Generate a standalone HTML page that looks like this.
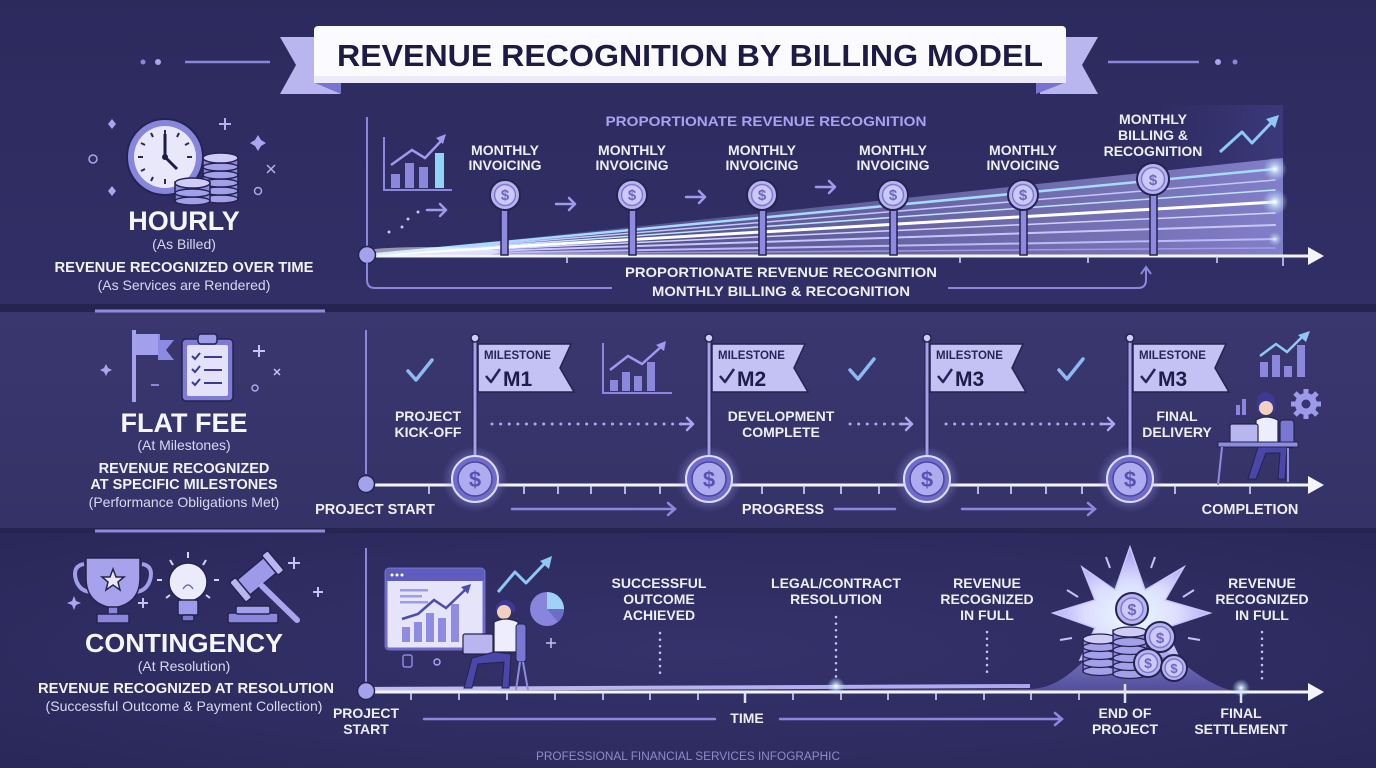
<!DOCTYPE html>
<html><head><meta charset="utf-8"><style>
html,body{margin:0;padding:0;background:#2b2a5c;}
svg{display:block;}
text{font-family:"Liberation Sans",sans-serif;}
.b{font-weight:bold;}
.lbl{font-weight:bold;font-size:14px;fill:#eeedfa;text-anchor:middle;}
.sub{font-size:14px;fill:#d9d8f2;text-anchor:middle;}
</style></head><body>
<svg width="1376" height="768" viewBox="0 0 1376 768" xmlns="http://www.w3.org/2000/svg">
<defs>
<linearGradient id="r1" x1="0" y1="0" x2="0" y2="1"><stop offset="0" stop-color="#2c2a5d"/><stop offset="1" stop-color="#312f66"/></linearGradient>
<linearGradient id="r2" x1="0" y1="0" x2="0" y2="1"><stop offset="0" stop-color="#39376e"/><stop offset="1" stop-color="#343267"/></linearGradient>
<radialGradient id="r3" cx="0.5" cy="0.5" r="0.7"><stop offset="0" stop-color="#34326a"/><stop offset="1" stop-color="#2a285a"/></radialGradient>
<linearGradient id="fan" x1="367" y1="0" x2="1283" y2="0" gradientUnits="userSpaceOnUse"><stop offset="0" stop-color="#ffffff" stop-opacity="0.6"/><stop offset="0.15" stop-color="#b8b5ff" stop-opacity="0.2"/><stop offset="1" stop-color="#a8a4f4" stop-opacity="0.65"/></linearGradient>
<linearGradient id="panel" x1="0" y1="0" x2="1" y2="0"><stop offset="0" stop-color="#4a47a0" stop-opacity="0"/><stop offset="1" stop-color="#5a57b5" stop-opacity="0.3"/></linearGradient>
<radialGradient id="glow"><stop offset="0" stop-color="#c8c6ff" stop-opacity="0.9"/><stop offset="0.6" stop-color="#9d9af0" stop-opacity="0.45"/><stop offset="1" stop-color="#8c89e8" stop-opacity="0"/></radialGradient>
<radialGradient id="wglow"><stop offset="0" stop-color="#ffffff" stop-opacity="1"/><stop offset="0.4" stop-color="#cfe9ff" stop-opacity="0.6"/><stop offset="1" stop-color="#a8d8ff" stop-opacity="0"/></radialGradient>
<radialGradient id="star" cx="0.5" cy="0.6" r="0.6"><stop offset="0" stop-color="#ffffff"/><stop offset="0.5" stop-color="#dcdcff"/><stop offset="1" stop-color="#9f9cf0"/></radialGradient>
<linearGradient id="bump" x1="0" y1="0" x2="0" y2="1"><stop offset="0" stop-color="#b3b0f5" stop-opacity="0.9"/><stop offset="1" stop-color="#6f6bd0" stop-opacity="0.6"/></linearGradient>
<linearGradient id="tl" x1="0" y1="0" x2="1" y2="0"><stop offset="0" stop-color="#d0ceff" stop-opacity="0.9"/><stop offset="1" stop-color="#b8b5ff" stop-opacity="0.9"/></linearGradient>
</defs>

<rect x="0" y="0" width="1376" height="768" fill="#2b2a5c"/>
<rect x="0" y="0" width="1376" height="304" fill="url(#r1)"/>
<rect x="0" y="304" width="1376" height="8" fill="#252350"/>
<rect x="0" y="312" width="1376" height="216" fill="url(#r2)"/>
<rect x="0" y="528" width="1376" height="5" fill="#262451"/>
<rect x="0" y="533" width="1376" height="235" fill="url(#r3)"/>
<line x1="95" y1="311" x2="325" y2="311" stroke="#8e8bdc" stroke-width="3"/>
<line x1="95" y1="531" x2="325" y2="531" stroke="#8e8bdc" stroke-width="3"/>

<circle cx="143" cy="62" r="2.5" fill="#8a87d6"/><circle cx="158" cy="62" r="3" fill="#a9a6ee"/>
<line x1="185" y1="62" x2="270" y2="62" stroke="#8a87d6" stroke-width="2.5"/>
<line x1="1108" y1="62" x2="1199" y2="62" stroke="#8a87d6" stroke-width="2.5"/>
<circle cx="1218" cy="62" r="3" fill="#a9a6ee"/><circle cx="1235" cy="62" r="2.5" fill="#8a87d6"/>
<polygon points="340,37 280,37 296,65 280,94 340,94" fill="#b9b6ef"/>
<polygon points="315,83 341,83 341,94" fill="#7773cf"/>
<polygon points="1040,37 1098,37 1082,65 1098,94 1040,94" fill="#b9b6ef"/>
<polygon points="1036,83 1064,83 1036,94" fill="#7773cf"/>
<rect x="314" y="26" width="752" height="57" rx="4" fill="#fbfbff"/>
<rect x="314" y="76" width="752" height="7" fill="#eceaf8"/>
<text x="690" y="66" class="b" font-size="31" fill="#1d1a45" text-anchor="middle" textLength="706" lengthAdjust="spacingAndGlyphs">REVENUE RECOGNITION BY BILLING MODEL</text>

<g>
<circle cx="165" cy="157" r="38" fill="#8885dc" stroke="#25234f" stroke-width="2"/>
<circle cx="165" cy="157" r="31" fill="#e9e8fb"/>
<g stroke="#2a2858" stroke-width="2">
<line x1="165" y1="130" x2="165" y2="135"/><line x1="165" y1="179" x2="165" y2="184"/>
<line x1="138" y1="157" x2="143" y2="157"/><line x1="187" y1="157" x2="192" y2="157"/>
<line x1="151" y1="133" x2="153" y2="137"/><line x1="179" y1="133" x2="177" y2="137"/>
<line x1="141" y1="143" x2="145" y2="145"/><line x1="189" y1="143" x2="185" y2="145"/>
<line x1="141" y1="171" x2="145" y2="169"/><line x1="151" y1="181" x2="153" y2="177"/>
</g>
<line x1="165" y1="157" x2="165" y2="134" stroke="#1f1c48" stroke-width="3"/>
<line x1="165" y1="157" x2="177" y2="169" stroke="#1f1c48" stroke-width="3"/>
<circle cx="165" cy="157" r="3" fill="#1f1c48"/>
<g stroke="#25234f" stroke-width="1.5" fill="#a3a0ea">
<rect x="203" y="158" width="35" height="42" fill="#8a87dc"/>
<ellipse cx="220.5" cy="199" rx="17.5" ry="4"/>
<ellipse cx="220.5" cy="191" rx="17.5" ry="4"/>
<ellipse cx="220.5" cy="183" rx="17.5" ry="4"/>
<ellipse cx="220.5" cy="175" rx="17.5" ry="4"/>
<ellipse cx="220.5" cy="167" rx="17.5" ry="4"/>
<ellipse cx="220.5" cy="158" rx="17.5" ry="5" fill="#cfcdf6"/>
</g>
<g stroke="#25234f" stroke-width="1.5" fill="#a3a0ea">
<rect x="175" y="182" width="35" height="20" fill="#8a87dc"/>
<ellipse cx="192.5" cy="201" rx="17.5" ry="4"/>
<ellipse cx="192.5" cy="193" rx="17.5" ry="4"/>
<ellipse cx="192.5" cy="183" rx="17.5" ry="5" fill="#cfcdf6"/>
</g>
<g fill="#b4b1ee" stroke="#b4b1ee" stroke-width="2">
<line x1="225" y1="118" x2="225" y2="130"/><line x1="219" y1="124" x2="231" y2="124"/>
<line x1="267" y1="165" x2="275" y2="173" stroke-width="1.5"/><line x1="275" y1="165" x2="267" y2="173" stroke-width="1.5"/>
</g>
<polygon points="112,119 116,124 112,129 108,124" fill="#a9a6ee"/>
<polygon points="112,186 116,191 112,196 108,191" fill="#a9a6ee"/>
<polygon points="258,135 261,140 266,143 261,146 258,151 255,146 250,143 255,140" fill="#a9a6ee"/>
<circle cx="93" cy="159" r="4" fill="none" stroke="#a9a6ee" stroke-width="1.5"/>
<circle cx="258" cy="191" r="3.5" fill="none" stroke="#a9a6ee" stroke-width="1.5"/>
</g>
<text x="184" y="230" class="b" font-size="27" fill="#f5f5fc" text-anchor="middle">HOURLY</text>
<text x="184" y="249" class="sub" font-size="15">(As Billed)</text>
<text x="184" y="272" class="b" font-size="14.5" fill="#f2f2fb" text-anchor="middle" textLength="259" lengthAdjust="spacingAndGlyphs">REVENUE RECOGNIZED OVER TIME</text>
<text x="184" y="290" class="sub" font-size="13.5">(As Services are Rendered)</text>

<rect x="1150" y="105" width="133" height="151" fill="url(#panel)"/>
<line x1="367" y1="117" x2="367" y2="255" stroke="#8a87dc" stroke-width="2"/>
<polygon points="367,255 1283,158 1283,255" fill="url(#fan)"/>
<g fill="none" stroke-linecap="round">
<line x1="367" y1="255" x2="1275" y2="248" stroke="#a9a6ee" stroke-width="1.5" opacity="0.8"/>
<line x1="367" y1="255" x2="1275" y2="239" stroke="#bdbaf7" stroke-width="2"/>
<line x1="367" y1="255" x2="1275" y2="225" stroke="#c8c5ff" stroke-width="2"/>
<line x1="367" y1="255" x2="1275" y2="213" stroke="#d4d2ff" stroke-width="1.5"/>
<line x1="367" y1="255" x2="1275" y2="202" stroke="#ffffff" stroke-width="3"/>
<line x1="367" y1="255" x2="1275" y2="190" stroke="#bfe4ff" stroke-width="1.5"/>
<line x1="367" y1="255" x2="1275" y2="180" stroke="#c9c6ff" stroke-width="1.5"/>
<line x1="367" y1="255" x2="1275" y2="169" stroke="#a6dbff" stroke-width="2.5"/>
</g>
<circle cx="1275" cy="169" r="12" fill="url(#wglow)"/>
<circle cx="1275" cy="202" r="13" fill="url(#wglow)"/>
<circle cx="1275" cy="239" r="7" fill="url(#wglow)" opacity="0.8"/>
<ellipse cx="430" cy="252" rx="70" ry="5" fill="#ffffff" opacity="0.5"/>
<line x1="367" y1="256" x2="1312" y2="256" stroke="#f4f4ff" stroke-width="3"/>
<polygon points="1308,247 1324,256 1308,265" fill="#f4f4ff"/>
<g stroke="#d8d6ff" stroke-width="1.5">
<line x1="567" y1="256" x2="567" y2="263"/><line x1="960" y1="256" x2="960" y2="263"/>
<line x1="1088" y1="256" x2="1088" y2="263"/><line x1="1217" y1="256" x2="1217" y2="263"/><line x1="1283" y1="256" x2="1283" y2="266"/>
</g>
<circle cx="367" cy="255" r="8.5" fill="#a5a2ec" stroke="#25234f" stroke-width="1.5"/>
<polyline points="384,137 384,190 452,190" fill="none" stroke="#8a87dc" stroke-width="2"/>
<rect x="391" y="174" width="9" height="14" fill="#8a87dc"/>
<rect x="405" y="163" width="9" height="25" fill="#8a87dc"/>
<rect x="419" y="167" width="9" height="21" fill="#8a87dc"/>
<rect x="435" y="153" width="9" height="35" fill="#8fd3f5"/>
<polyline points="391,165 412,150 425,158 442,140" fill="none" stroke="#9d9af0" stroke-width="2.5"/>
<polygon points="436,138 446,134 443,144" fill="#9d9af0"/>
<g fill="#c5c3f5"><circle cx="389" cy="232" r="1.5"/><circle cx="402" cy="227" r="1.5"/><circle cx="408" cy="219" r="1.5"/><circle cx="418" cy="212" r="1.5"/></g>
<g stroke="#9e9bec" stroke-width="2.5" fill="none" stroke-linecap="round" stroke-linejoin="round">
<path d="M427,210 H446 M440,204 L446,210 L440,216"/>
<path d="M556,204 H575 M569,198 L575,204 L569,210"/>
<path d="M686,197 H705 M699,191 L705,197 L699,203"/>
<path d="M816,187 H835 M829,181 L835,187 L829,193"/>
</g>
<text x="766" y="126" class="b" font-size="14" fill="#a6a3f2" text-anchor="middle" textLength="321" lengthAdjust="spacingAndGlyphs">PROPORTIONATE REVENUE RECOGNITION</text>
<g>
<text x="505" y="155" class="lbl">MONTHLY</text><text x="505" y="170" class="lbl">INVOICING</text>
<text x="632" y="155" class="lbl">MONTHLY</text><text x="632" y="170" class="lbl">INVOICING</text>
<text x="762" y="155" class="lbl">MONTHLY</text><text x="762" y="170" class="lbl">INVOICING</text>
<text x="893" y="155" class="lbl">MONTHLY</text><text x="893" y="170" class="lbl">INVOICING</text>
<text x="1023" y="155" class="lbl">MONTHLY</text><text x="1023" y="170" class="lbl">INVOICING</text>
<text x="1153" y="124" class="lbl">MONTHLY</text><text x="1153" y="140" class="lbl">BILLING &amp;</text><text x="1153" y="156" class="lbl">RECOGNITION</text>
</g>
<g stroke="#25234f" stroke-width="1.5" fill="#8e8ae0">
<rect x="501" y="209" width="7" height="46"/>
<rect x="629" y="209" width="7" height="46"/>
<rect x="759" y="209" width="7" height="46"/>
<rect x="890" y="209" width="7" height="46"/>
<rect x="1020" y="209" width="7" height="46"/>
<rect x="1150" y="193" width="7" height="62"/>
</g>
<g stroke="#25234f" stroke-width="2" fill="#b7b4ef">
<circle cx="505" cy="195" r="15"/><circle cx="632" cy="195" r="15"/><circle cx="762" cy="195" r="15"/>
<circle cx="893" cy="195" r="15"/><circle cx="1023" cy="195" r="15"/><circle cx="1153" cy="179" r="16"/>
</g>
<g stroke="#7d79d3" stroke-width="1.5" fill="#cbc9f7">
<circle cx="505" cy="195" r="10.5"/><circle cx="632" cy="195" r="10.5"/><circle cx="762" cy="195" r="10.5"/>
<circle cx="893" cy="195" r="10.5"/><circle cx="1023" cy="195" r="10.5"/><circle cx="1153" cy="179" r="11.5"/>
</g>
<g class="b" font-size="15" fill="#6b67c6" text-anchor="middle">
<text x="505" y="200">$</text><text x="632" y="200">$</text><text x="762" y="200">$</text>
<text x="893" y="200">$</text><text x="1023" y="200">$</text><text x="1153" y="185">$</text>
</g>
<polyline points="1220,152 1242,132 1252,143 1272,122" fill="none" stroke="#8fc7f5" stroke-width="3" stroke-linejoin="round"/>
<polygon points="1266,119 1279,115 1275,128" fill="#8fc7f5"/>
<path d="M367,262 V280 Q367,288 375,288 H612" fill="none" stroke="#8a87dc" stroke-width="2"/>
<path d="M948,288 H1138 Q1146,288 1146,280 V269" fill="none" stroke="#8a87dc" stroke-width="2"/>
<polyline points="1141,274 1146,267 1151,274" fill="none" stroke="#8a87dc" stroke-width="2"/>
<text x="781" y="277" class="b" font-size="14" fill="#eeedfa" text-anchor="middle" textLength="312" lengthAdjust="spacingAndGlyphs">PROPORTIONATE REVENUE RECOGNITION</text>
<text x="781" y="296" class="b" font-size="14" fill="#eeedfa" text-anchor="middle" textLength="258" lengthAdjust="spacingAndGlyphs">MONTHLY BILLING &amp; RECOGNITION</text>

<line x1="134" y1="330" x2="134" y2="402" stroke="#a5a2ec" stroke-width="4"/>
<polygon points="136,334 160,334 160,340 174,340 166,350 174,360 158,360 158,355 136,355" fill="#8d8ae2"/>
<rect x="136" y="334" width="22" height="21" fill="#a29fec"/>
<rect x="182" y="339" width="51" height="62" rx="4" fill="#7e7bd6" stroke="#25234f" stroke-width="1.5"/>
<rect x="187" y="345" width="41" height="51" rx="2" fill="#e3e2fa"/>
<rect x="198" y="334" width="19" height="10" rx="3" fill="#9e9be8" stroke="#25234f" stroke-width="1.5"/>
<g stroke="#3d3a94" stroke-width="2" fill="none">
<polyline points="192,356 195,359 200,353"/><line x1="204" y1="357" x2="222" y2="357"/>
<polyline points="192,369 195,372 200,366"/><line x1="204" y1="370" x2="222" y2="370"/>
<polyline points="192,382 195,385 200,379"/><line x1="204" y1="383" x2="222" y2="383"/>
</g>
<polygon points="106,364 108,368 112,370 108,372 106,376 104,372 100,370 104,368" fill="#a9a6ee"/>
<g stroke="#c5c3f5" stroke-width="2"><line x1="259" y1="345" x2="259" y2="357"/><line x1="253" y1="351" x2="265" y2="351"/>
<line x1="274" y1="369" x2="280" y2="375" stroke-width="1.5"/><line x1="280" y1="369" x2="274" y2="375" stroke-width="1.5"/>
<line x1="151" y1="385" x2="159" y2="385" stroke="#8a87dc"/></g>
<circle cx="255" cy="388" r="3" fill="none" stroke="#a9a6ee" stroke-width="1.5"/>
<text x="184" y="432" class="b" font-size="27" fill="#f5f5fc" text-anchor="middle">FLAT FEE</text>
<text x="184" y="450" class="sub" font-size="15">(At Milestones)</text>
<text x="184" y="473" class="b" font-size="14.5" fill="#f2f2fb" text-anchor="middle">REVENUE RECOGNIZED</text>
<text x="184" y="489" class="b" font-size="14.5" fill="#f2f2fb" text-anchor="middle">AT SPECIFIC MILESTONES</text>
<text x="184" y="507" class="sub" font-size="13.5">(Performance Obligations Met)</text>

<line x1="366" y1="330" x2="366" y2="474" stroke="#8a87dc" stroke-width="2"/>
<line x1="366" y1="485" x2="1312" y2="485" stroke="#f4f4ff" stroke-width="3"/>
<polygon points="1308,476 1324,485 1308,494" fill="#f4f4ff"/>
<g stroke="#e0dfff" stroke-width="1.5">
<line x1="429" y1="485" x2="429" y2="494"/><line x1="524" y1="485" x2="524" y2="494"/><line x1="558" y1="485" x2="558" y2="494"/>
<line x1="591" y1="485" x2="591" y2="494"/><line x1="625" y1="485" x2="625" y2="494"/><line x1="660" y1="485" x2="660" y2="494"/>
<line x1="762" y1="485" x2="762" y2="494"/><line x1="804" y1="485" x2="804" y2="494"/><line x1="841" y1="485" x2="841" y2="494"/>
<line x1="879" y1="485" x2="879" y2="494"/><line x1="978" y1="485" x2="978" y2="494"/><line x1="1011" y1="485" x2="1011" y2="494"/>
<line x1="1046" y1="485" x2="1046" y2="494"/><line x1="1082" y1="485" x2="1082" y2="494"/><line x1="1175" y1="485" x2="1175" y2="494"/>
<line x1="1250" y1="485" x2="1250" y2="494"/>
</g>
<circle cx="366" cy="484" r="8.5" fill="#a5a2ec" stroke="#25234f" stroke-width="1.5"/>
<g stroke="#8fb9f2" stroke-width="3.5" fill="none" stroke-linecap="round" stroke-linejoin="round">
<polyline points="408,371 416,380 432,360"/>
<polyline points="850,370 858,379 874,359"/>
<polyline points="1059,370 1067,379 1083,359"/>
</g>
<polyline points="603,343 603,393 672,393" fill="none" stroke="#8a87dc" stroke-width="2"/>
<rect x="610" y="380" width="8" height="11" fill="#8a87dc"/><rect x="622" y="372" width="8" height="19" fill="#8a87dc"/>
<rect x="634" y="376" width="8" height="15" fill="#8a87dc"/><rect x="647" y="362" width="8" height="29" fill="#8a87dc"/>
<polyline points="610,370 628,356 642,364 662,346" fill="none" stroke="#9d9af0" stroke-width="2.5"/>
<polygon points="656,345 666,341 664,351" fill="#9d9af0"/>
<g stroke="#a9a6ee" stroke-width="3" stroke-dasharray="0.1 8.5" stroke-linecap="round">
<line x1="492" y1="424" x2="682" y2="424"/><line x1="850" y1="424" x2="902" y2="424"/><line x1="946" y1="424" x2="1103" y2="424"/>
</g>
<g stroke="#a9a6ee" stroke-width="2.5" fill="none" stroke-linecap="round" stroke-linejoin="round">
<path d="M680,424 H693 M687,418 L693,424 L687,430"/>
<path d="M900,424 H912 M906,418 L912,424 L906,430"/>
<path d="M1101,424 H1114 M1108,418 L1114,424 L1108,430"/>
</g>
<text x="428" y="421" class="lbl">PROJECT</text><text x="428" y="437" class="lbl">KICK-OFF</text>
<text x="781" y="421" class="lbl">DEVELOPMENT</text><text x="781" y="437" class="lbl">COMPLETE</text>
<text x="1177" y="421" class="lbl">FINAL</text><text x="1177" y="437" class="lbl">DELIVERY</text>
<g stroke="#25234f" stroke-width="1">
<rect x="473" y="340" width="4" height="118" fill="#a5a2ec"/>
<rect x="707" y="340" width="4" height="118" fill="#a5a2ec"/>
<rect x="925" y="340" width="4" height="118" fill="#a5a2ec"/>
<rect x="1128" y="340" width="4" height="118" fill="#a5a2ec"/>
</g>
<g fill="#cfcdf7" stroke="#25234f" stroke-width="1.5">
<circle cx="475" cy="338" r="4"/><circle cx="709" cy="338" r="4"/><circle cx="927" cy="338" r="4"/><circle cx="1130" cy="338" r="4"/>
</g>
<g fill="#c4c2f4" stroke="#25234f" stroke-width="1.5">
<polygon points="478,344 571,344 560,368 574,392 478,392"/>
<polygon points="712,344 805,344 794,368 808,392 712,392"/>
<polygon points="930,344 1023,344 1012,368 1026,392 930,392"/>
<polygon points="1133,344 1226,344 1215,368 1229,392 1133,392"/>
</g>
<g class="b" font-size="11.5" fill="#27245c">
<text x="484" y="359">MILESTONE</text><text x="718" y="359">MILESTONE</text>
<text x="936" y="359">MILESTONE</text><text x="1139" y="359">MILESTONE</text>
</g>
<g stroke="#27245c" stroke-width="2.5" fill="none" stroke-linejoin="round">
<polyline points="486,376 491,382 500,369"/><polyline points="720,376 725,382 734,369"/>
<polyline points="938,376 943,382 952,369"/><polyline points="1141,376 1146,382 1155,369"/>
</g>
<g class="b" font-size="21" fill="#1f1c48">
<text x="503" y="386">M1</text><text x="737" y="386">M2</text><text x="955" y="386">M3</text><text x="1158" y="386">M3</text>
</g>
<g>
<circle cx="475" cy="479" r="33" fill="url(#glow)"/><circle cx="709" cy="479" r="33" fill="url(#glow)"/>
<circle cx="927" cy="479" r="33" fill="url(#glow)"/><circle cx="1130" cy="479" r="33" fill="url(#glow)"/>
</g>
<g fill="#6f6ccd" stroke="#dddcff" stroke-width="2">
<circle cx="475" cy="479" r="23"/><circle cx="709" cy="479" r="23"/><circle cx="927" cy="479" r="23"/><circle cx="1130" cy="479" r="23"/>
</g>
<g fill="#aeabef" stroke="#4b4799" stroke-width="1.5">
<circle cx="475" cy="479" r="17"/><circle cx="709" cy="479" r="17"/><circle cx="927" cy="479" r="17"/><circle cx="1130" cy="479" r="17"/>
</g>
<g class="b" font-size="22" fill="#5753b3" text-anchor="middle">
<text x="475" y="487">$</text><text x="709" y="487">$</text><text x="927" y="487">$</text><text x="1130" y="487">$</text>
</g>
<g>
<rect x="1260" y="362" width="8" height="15" fill="#8a87dc"/><rect x="1272" y="355" width="8" height="22" fill="#8a87dc"/>
<rect x="1284" y="366" width="8" height="11" fill="#8a87dc"/><rect x="1297" y="345" width="8" height="32" fill="#8a87dc"/>
<polyline points="1260,356 1276,344 1287,352 1303,336" fill="none" stroke="#8fc7f5" stroke-width="2.5"/>
<polygon points="1298,335 1310,331 1306,342" fill="#8fc7f5"/>
<rect x="1236" y="405" width="4" height="10" fill="#8a87dc"/><rect x="1242" y="399" width="4" height="16" fill="#8a87dc"/>
<circle cx="1306" cy="404" r="11" fill="#9d9aea"/>
<g stroke="#9d9aea" stroke-width="5"><line x1="1306" y1="389" x2="1306" y2="419"/><line x1="1291" y1="404" x2="1321" y2="404"/><line x1="1295" y1="393" x2="1317" y2="415"/><line x1="1317" y1="393" x2="1295" y2="415"/></g>
<circle cx="1306" cy="404" r="4.5" fill="#37356b"/>
<rect x="1280" y="420" width="14" height="28" rx="3" fill="#7a77d2" stroke="#25234f" stroke-width="1.2"/>
<path d="M1257,398 q8,-12 18,0 v14 h-18z" fill="#3c3994"/>
<circle cx="1266" cy="408" r="7" fill="#f1d2c0"/>
<path d="M1256,420 q10,-6 22,0 v24 h-22z" fill="#eeedfb" stroke="#25234f" stroke-width="1.2"/>
<rect x="1230" y="424" width="28" height="19" rx="2" fill="#b8b6ee" stroke="#25234f" stroke-width="1.2"/>
<rect x="1218" y="442" width="80" height="5" fill="#8e8be0" stroke="#25234f" stroke-width="1"/>
<path d="M1258,447 l-10,32 h8 l10,-26 h14 l-2,26 h7 l2,-32z" fill="#4a47a8" stroke="#25234f" stroke-width="1"/>
<line x1="1222" y1="447" x2="1218" y2="485" stroke="#8e8be0" stroke-width="2"/>
<line x1="1288" y1="448" x2="1288" y2="482" stroke="#8e8be0" stroke-width="2"/>
</g>
<text x="375" y="514" class="b" font-size="14.5" fill="#f0effb" text-anchor="middle">PROJECT START</text>
<text x="783" y="514" class="b" font-size="14.5" fill="#f0effb" text-anchor="middle">PROGRESS</text>
<text x="1250" y="514" class="b" font-size="14.5" fill="#f0effb" text-anchor="middle">COMPLETION</text>
<g stroke="#8a87dc" stroke-width="2.5" fill="none" stroke-linecap="round">
<path d="M512,509 H675 M668,503 L675,509 L668,515"/>
<line x1="835" y1="509" x2="895" y2="509"/>
<path d="M962,509 H1095 M1088,503 L1095,509 L1088,515"/>
</g>

<g stroke="#25234f" stroke-width="1.5">
<path d="M84,564 q-12,2 -8,16 q4,12 16,12" fill="none" stroke="#a19eea" stroke-width="4"/>
<path d="M142,564 q12,2 8,16 q-4,12 -16,12" fill="none" stroke="#a19eea" stroke-width="4"/>
<path d="M86,558 h54 v20 q0,26 -27,30 q-27,-4 -27,-30z" fill="#a6a3ec"/>
<polygon points="113,569 116,577 124,577 118,582 120,590 113,585 106,590 108,582 102,577 110,577" fill="#e8e7fb"/>
<rect x="108" y="607" width="10" height="8" fill="#8986dc"/>
<rect x="97" y="614" width="32" height="9" fill="#8986dc"/>
<circle cx="188" cy="582" r="19" fill="#ecebfc"/>
<path d="M183,589 q5,-8 10,0" fill="none" stroke="#6f6cc8"/>
<rect x="178" y="600" width="20" height="15" rx="2" fill="#9e9be8"/>
<rect x="182" y="615" width="12" height="6" rx="2" fill="#7a77d2"/>
<g transform="rotate(-40 256 577)">
<rect x="236" y="567" width="42" height="20" rx="3" fill="#9d9aea"/>
<rect x="232" y="564" width="8" height="26" rx="2" fill="#b8b6f0"/>
<rect x="274" y="564" width="8" height="26" rx="2" fill="#b8b6f0"/>
</g>
<line x1="262" y1="586" x2="297" y2="620" stroke="#a9a6ee" stroke-width="6" stroke-linecap="round"/>
<rect x="228" y="613" width="50" height="10" rx="2" fill="#8986dc"/>
<rect x="236" y="606" width="34" height="8" rx="2" fill="#a29fea"/>
</g>
<g stroke="#d8d6f8" stroke-width="2">
<line x1="188" y1="552" x2="188" y2="558"/><line x1="170" y1="560" x2="173" y2="565"/><line x1="206" y1="560" x2="203" y2="565"/>
<line x1="157" y1="580" x2="162" y2="580"/><line x1="214" y1="580" x2="219" y2="580"/>
<line x1="166" y1="598" x2="170" y2="595"/><line x1="210" y1="598" x2="206" y2="595"/>
</g>
<g stroke="#c5c3f5" stroke-width="2">
<line x1="294" y1="557" x2="294" y2="569"/><line x1="288" y1="563" x2="300" y2="563"/>
<line x1="318" y1="587" x2="318" y2="597"/><line x1="313" y1="592" x2="323" y2="592"/>
<line x1="143" y1="598" x2="143" y2="608"/><line x1="138" y1="603" x2="148" y2="603"/>
</g>
<polygon points="74,596 76,601 81,603 76,605 74,610 72,605 67,603 72,601" fill="#a9a6ee"/>
<text x="184" y="652" class="b" font-size="26" fill="#f5f5fc" text-anchor="middle" textLength="198" lengthAdjust="spacingAndGlyphs">CONTINGENCY</text>
<text x="184" y="671" class="sub" font-size="15">(At Resolution)</text>
<text x="186" y="693" class="b" font-size="14.5" fill="#f2f2fb" text-anchor="middle" textLength="296" lengthAdjust="spacingAndGlyphs">REVENUE RECOGNIZED AT RESOLUTION</text>
<text x="184" y="711" class="sub" font-size="13.5" textLength="277" lengthAdjust="spacingAndGlyphs">(Successful Outcome &amp; Payment Collection)</text>

<line x1="366" y1="548" x2="366" y2="683" stroke="#8a87dc" stroke-width="2"/>
<polygon points="1130,547 1145,590 1184,567 1165,600 1210,613 1165,628 1180,660 1130,650 1080,660 1095,628 1053,613 1095,600 1082,567 1115,590" fill="url(#star)" stroke="#c8c6ff" stroke-width="1.5"/>
<circle cx="1130" cy="615" r="40" fill="url(#wglow)" opacity="0.6"/>
<g stroke="#c5c3f5" stroke-width="2">
<line x1="1106" y1="557" x2="1110" y2="568"/><line x1="1155" y1="557" x2="1151" y2="568"/>
<line x1="1067" y1="590" x2="1078" y2="597"/><line x1="1194" y1="590" x2="1183" y2="597"/>
<line x1="1060" y1="640" x2="1072" y2="638"/><line x1="1200" y1="640" x2="1188" y2="638"/>
</g>
<path d="M367,693 L1030,689 C1075,688 1088,640 1130,636 C1172,640 1195,690 1248,693 Z" fill="url(#bump)" opacity="0.85"/>
<path d="M367,689 L1030,686" stroke="url(#tl)" stroke-width="4" fill="none"/>
<g stroke="#25234f" stroke-width="1.3" fill="#a3a0ea">
<rect x="1083" y="640" width="34" height="32" fill="#8a87dc"/>
<ellipse cx="1100" cy="671" rx="17" ry="4.5"/><ellipse cx="1100" cy="663" rx="17" ry="4.5"/>
<ellipse cx="1100" cy="655" rx="17" ry="4.5"/><ellipse cx="1100" cy="647" rx="17" ry="4.5"/>
<ellipse cx="1100" cy="639" rx="17" ry="5" fill="#cfcdf6"/>
<rect x="1113" y="630" width="34" height="45" fill="#8a87dc"/>
<ellipse cx="1130" cy="674" rx="17" ry="4.5"/><ellipse cx="1130" cy="666" rx="17" ry="4.5"/>
<ellipse cx="1130" cy="658" rx="17" ry="4.5"/><ellipse cx="1130" cy="650" rx="17" ry="4.5"/>
<ellipse cx="1130" cy="642" rx="17" ry="4.5"/><ellipse cx="1130" cy="632" rx="17" ry="5" fill="#cfcdf6"/>
</g>
<g stroke="#25234f" stroke-width="2" fill="#b7b4ef">
<circle cx="1132" cy="609" r="16"/><circle cx="1160" cy="637" r="15"/><circle cx="1148" cy="663" r="14"/><circle cx="1174" cy="668" r="13"/>
</g>
<g stroke="#7d79d3" stroke-width="1.5" fill="#cbc9f7">
<circle cx="1132" cy="609" r="11"/><circle cx="1160" cy="637" r="10.5"/><circle cx="1148" cy="663" r="9.5"/><circle cx="1174" cy="668" r="9"/>
</g>
<g class="b" fill="#6b67c6" text-anchor="middle">
<text x="1132" y="615" font-size="16">$</text><text x="1160" y="643" font-size="15">$</text>
<text x="1148" y="668" font-size="14">$</text><text x="1174" y="673" font-size="13">$</text>
</g>
<line x1="366" y1="692" x2="1312" y2="692" stroke="#f4f4ff" stroke-width="3"/>
<polygon points="1308,683 1324,692 1308,701" fill="#f4f4ff"/>
<g stroke="#e0dfff" stroke-width="1.5">
<line x1="411" y1="692" x2="411" y2="700"/><line x1="459" y1="692" x2="459" y2="700"/><line x1="507" y1="692" x2="507" y2="700"/>
<line x1="555" y1="692" x2="555" y2="700"/><line x1="603" y1="692" x2="603" y2="700"/><line x1="650" y1="692" x2="650" y2="700"/>
<line x1="698" y1="692" x2="698" y2="700"/><line x1="745" y1="692" x2="745" y2="703" stroke-width="2.5"/><line x1="793" y1="692" x2="793" y2="700"/>
<line x1="841" y1="692" x2="841" y2="700"/><line x1="888" y1="692" x2="888" y2="700"/><line x1="936" y1="692" x2="936" y2="700"/>
<line x1="984" y1="692" x2="984" y2="700"/><line x1="1031" y1="692" x2="1031" y2="700"/><line x1="1079" y1="692" x2="1079" y2="700"/>
<line x1="1125" y1="684" x2="1125" y2="703" stroke-width="2.5"/><line x1="1241" y1="692" x2="1241" y2="703" stroke-width="2.5"/>
</g>
<circle cx="366" cy="691" r="8.5" fill="#a5a2ec" stroke="#25234f" stroke-width="1.5"/>
<circle cx="836" cy="686" r="9" fill="url(#wglow)"/>
<circle cx="1241" cy="688" r="9" fill="url(#wglow)"/>
<g stroke="#c5c3f5" stroke-width="2.5" stroke-dasharray="0.1 6.5" stroke-linecap="round">
<line x1="660" y1="633" x2="660" y2="676"/><line x1="836" y1="617" x2="836" y2="678"/>
<line x1="987" y1="632" x2="987" y2="676"/><line x1="1262" y1="632" x2="1262" y2="682"/>
</g>
<text x="659" y="588" class="lbl">SUCCESSFUL</text><text x="659" y="604" class="lbl">OUTCOME</text><text x="659" y="620" class="lbl">ACHIEVED</text>
<text x="836" y="588" class="lbl">LEGAL/CONTRACT</text><text x="836" y="604" class="lbl">RESOLUTION</text>
<text x="987" y="588" class="lbl">REVENUE</text><text x="987" y="604" class="lbl">RECOGNIZED</text><text x="987" y="620" class="lbl">IN FULL</text>
<text x="1262" y="588" class="lbl">REVENUE</text><text x="1262" y="604" class="lbl">RECOGNIZED</text><text x="1262" y="620" class="lbl">IN FULL</text>
<g>
<rect x="386" y="569" width="98" height="80" rx="3" fill="#e5e4fb" stroke="#6f6cc8" stroke-width="3"/>
<rect x="386" y="569" width="98" height="12" rx="2" fill="#5f5bbf"/>
<circle cx="392" cy="575" r="1.5" fill="#fff"/><circle cx="397" cy="575" r="1.5" fill="#fff"/><circle cx="402" cy="575" r="1.5" fill="#fff"/>
<rect x="400" y="589" width="28" height="2.5" fill="#9e9be8"/><rect x="400" y="595" width="22" height="2.5" fill="#9e9be8"/><rect x="400" y="601" width="28" height="2.5" fill="#9e9be8"/>
<rect x="402" y="627" width="8" height="15" fill="#8e8be0"/><rect x="414" y="622" width="8" height="20" fill="#8e8be0"/>
<rect x="426" y="613" width="8" height="29" fill="#8e8be0"/><rect x="438" y="618" width="8" height="24" fill="#8e8be0"/>
<rect x="451" y="604" width="8" height="38" fill="#8e8be0"/>
<polyline points="402,619 418,614 434,600 446,608 466,589" fill="none" stroke="#4f4bb0" stroke-width="2.5"/>
<polygon points="461,587 471,584 468,594" fill="#4f4bb0"/>
<polyline points="498,592 515,572 526,583 546,562" fill="none" stroke="#8fc7f5" stroke-width="3" stroke-linejoin="round"/>
<polygon points="540,561 552,556 549,569" fill="#8fc7f5"/>
<circle cx="547" cy="609" r="17" fill="#8885dc"/>
<path d="M547,609 L547,592 A17,17 0 0 1 564,609 Z" fill="#9fd3f5"/>
<path d="M547,609 L564,609 A17,17 0 0 1 558,622 Z" fill="#6f6cc8"/>
<g stroke="#c5c3f5" stroke-width="1.5"><line x1="551" y1="638" x2="551" y2="648"/><line x1="546" y1="643" x2="556" y2="643"/></g>
<rect x="403" y="655" width="9" height="12" rx="2" fill="none" stroke="#8a87dc" stroke-width="1.5"/>
<circle cx="437" cy="662" r="3" fill="none" stroke="#a9a6ee" stroke-width="1.5"/>
<path d="M496,606 q9,-12 19,0 v6 h-19z" fill="#3c3994"/>
<circle cx="504" cy="612" r="7" fill="#f1d2c0"/>
<path d="M494,622 q12,-6 24,0 v30 h-24z" fill="#eeedfb" stroke="#25234f" stroke-width="1.2"/>
<rect x="516" y="624" width="10" height="38" rx="3" fill="#7a77d2" stroke="#25234f" stroke-width="1"/>
<rect x="463" y="634" width="30" height="20" rx="2" fill="#b8b6ee" stroke="#25234f" stroke-width="1.2"/>
<path d="M494,652 l-22,6 l-8,30 h8 l6,-24 l26,-2 l-2,26 h7 l2,-34z" fill="#4a47a8" stroke="#25234f" stroke-width="1"/>
<line x1="520" y1="662" x2="516" y2="690" stroke="#8e8be0" stroke-width="2"/>
<line x1="523" y1="662" x2="528" y2="690" stroke="#8e8be0" stroke-width="2"/>
</g>
<text x="366" y="718" class="lbl">PROJECT</text><text x="366" y="734" class="lbl">START</text>
<text x="747" y="723" class="lbl">TIME</text>
<text x="1125" y="718" class="lbl">END OF</text><text x="1125" y="734" class="lbl">PROJECT</text>
<text x="1241" y="718" class="lbl">FINAL</text><text x="1241" y="734" class="lbl">SETTLEMENT</text>
<g stroke="#8a87dc" stroke-width="2.5" fill="none" stroke-linecap="round">
<line x1="424" y1="719" x2="715" y2="719"/>
<path d="M780,719 H1062 M1055,713 L1062,719 L1055,725"/>
</g>
<text x="688" y="760" font-size="11.5" fill="#8e8bc9" text-anchor="middle" textLength="304" lengthAdjust="spacingAndGlyphs">PROFESSIONAL FINANCIAL SERVICES INFOGRAPHIC</text>
</svg>
</body></html>
